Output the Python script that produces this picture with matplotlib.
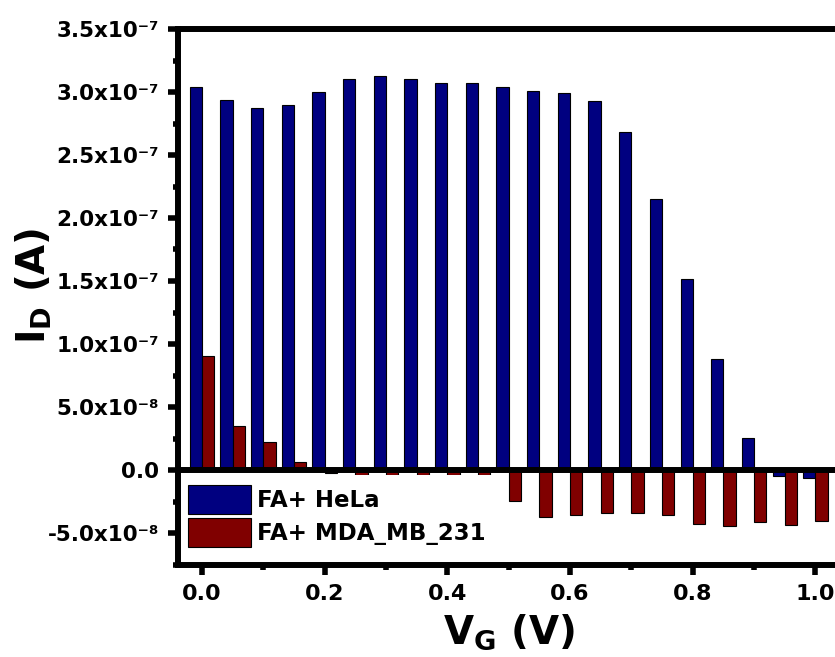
import matplotlib
matplotlib.use("Agg")
import matplotlib.pyplot as plt
import numpy as np
from matplotlib.ticker import FixedLocator, FixedFormatter, MultipleLocator

# Gate voltage steps (V)
vg = [0.00, 0.05, 0.10, 0.15, 0.20, 0.25, 0.30, 0.35, 0.40, 0.45, 0.50,
      0.55, 0.60, 0.65, 0.70, 0.75, 0.80, 0.85, 0.90, 0.95, 1.00]

# Drain current (A) for each sample
hela = [3.04e-7, 2.94e-7, 2.87e-7, 2.90e-7, 3.00e-7, 3.105e-7, 3.127e-7,
        3.103e-7, 3.074e-7, 3.069e-7, 3.037e-7, 3.01e-7, 2.99e-7, 2.93e-7,
        2.685e-7, 2.148e-7, 1.518e-7, 8.78e-8, 2.54e-8, -4.5e-9, -6.6e-9]
mda = [9.05e-8, 3.49e-8, 2.22e-8, 6.1e-9, -2e-9, -1.0e-8, -1.0e-8,
       -1.0e-8, -1.0e-8, -1.0e-8, -2.46e-8, -3.75e-8, -3.55e-8, -3.44e-8,
       -3.44e-8, -3.6e-8, -4.26e-8, -4.44e-8, -4.13e-8, -4.34e-8, -4.02e-8]

series_names = ["FA+ HeLa", "FA+ MDA_MB_231"]

x_ticks = [0.0, 0.2, 0.4, 0.6, 0.8, 1.0]
x_tick_labels = ["0.0", "0.2", "0.4", "0.6", "0.8", "1.0"]
y_ticks = [-5e-8, 0.0, 5e-8, 1e-7, 1.5e-7, 2e-7, 2.5e-7, 3e-7, 3.5e-7]
y_tick_labels = ["-5.0x10\u207b\u2078", "0.0", "5.0x10\u207b\u2078",
                 "1.0x10\u207b\u2077", "1.5x10\u207b\u2077", "2.0x10\u207b\u2077",
                 "2.5x10\u207b\u2077", "3.0x10\u207b\u2077", "3.5x10\u207b\u2077"]

plt.rcParams["font.family"] = ["DejaVu Sans"]
plt.rcParams["font.weight"] = "bold"
plt.rcParams["mathtext.fontset"] = "dejavusans"

W, H = 835, 657
fig = plt.figure(figsize=(W / 100, H / 100), dpi=100)
left, right, top, bottom = 177.5, 840.0, 29.0, 564.5
ax = fig.add_axes([left / W, (H - bottom) / H, (right - left) / W, (bottom - top) / H])

x = np.array(vg)
w = 0.02
ax.bar(x - w / 2, hela, width=w, color="#000080", edgecolor="black",
       linewidth=0.8, label=series_names[0], zorder=1)
ax.bar(x + w / 2, mda, width=w, color="#800000", edgecolor="black",
       linewidth=0.8, label=series_names[1], zorder=1)
ax.axhline(0, color="black", lw=4.3, zorder=2.2)

ax.set_xlim(-0.04, 1.04)
ax.set_ylim(-7.5e-8, 3.5e-7)

for s in ax.spines.values():
    s.set_linewidth(4.3)

ax.xaxis.set_major_locator(FixedLocator(x_ticks))
ax.xaxis.set_major_formatter(FixedFormatter(x_tick_labels))
ax.xaxis.set_minor_locator(MultipleLocator(0.1))
ax.yaxis.set_major_locator(FixedLocator(y_ticks))
ax.yaxis.set_major_formatter(FixedFormatter(y_tick_labels))
ax.yaxis.set_minor_locator(MultipleLocator(2.5e-8))

ax.tick_params(which="major", direction="out", length=7.2, width=4, pad=6)
ax.tick_params(which="minor", direction="out", length=3.4, width=4)
ax.tick_params(axis="y", which="major", labelsize=15.5)
ax.tick_params(axis="x", which="major", labelsize=16, pad=7)

ax.set_xlabel(r"$\mathbf{V_G}$ (V)", fontsize=28, fontweight="bold")
ax.set_ylabel(r"$\mathbf{I_D}$ (A)", fontsize=28, fontweight="bold")
ax.xaxis.set_label_coords(0.5, -0.089)
ax.yaxis.set_label_coords(-0.187, 0.52)

leg = ax.legend(loc="lower left", bbox_to_anchor=(0, 0.013), borderaxespad=0,
                frameon=True, fancybox=False, edgecolor="none",
                facecolor="white", framealpha=1,
                prop={"weight": "bold", "size": 16.5},
                handlelength=2.75, handleheight=1.6, handletextpad=0.3,
                labelspacing=0.17, borderpad=0.44)
leg.set_zorder(2)

fig.savefig("out.png", dpi=100)
